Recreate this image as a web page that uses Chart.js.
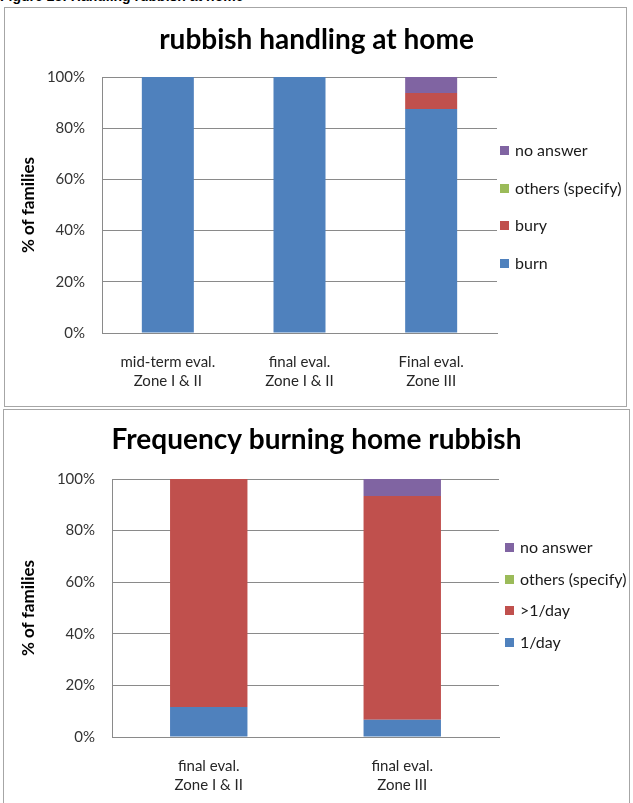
<!DOCTYPE html>
<html>
<head>
<meta charset="utf-8">
<script src="https://cdn.jsdelivr.net/npm/chart.js@4"></script>
<style>
  body { margin: 0; width: 633px; height: 803px; overflow: hidden; background: #fff; position: relative; font-family: Lato, sans-serif; }
  .caption { position: absolute; left: 0; top: -12px; font: bold 14px "Liberation Sans", Arial, sans-serif; color: #000; white-space: nowrap; }
  .frame { position: absolute; border: 1px solid #a6a6a6; box-sizing: border-box; }
  .holder { position: absolute; left: 0; width: 633px; }
  .legend { position: absolute; font-size: 16px; color: #1a1a1a; }
  .legend .item { position: absolute; left: 0; height: 20px; line-height: 20px; white-space: nowrap; }
  .legend .box { position: absolute; left: 0; top: 6px; width: 9px; height: 9px; }
  .legend .txt { position: absolute; left: 15px; top: 0; }
</style>
</head>
<body>
<div class="caption">Figure 23: Handling rubbish at home</div>
<div class="frame" style="left:4px; top:7px; width:623px; height:400px;"></div>
<div class="frame" style="left:3px; top:409px; width:627px; height:420px;"></div>
<div class="holder" style="top:0; height:406px;"><canvas id="handling-chart"></canvas></div>
<div class="holder" style="top:409px; height:394px;"><canvas id="frequency-chart"></canvas></div>
<div class="legend" id="handling-legend" style="left:500px; top:0;"></div>
<div class="legend" id="frequency-legend" style="left:505px; top:0;"></div>

<script>
// --- Dados: destino do lixo ---
const handlingLabels = [['mid-term eval.', 'Zone I & II'], ['final eval.', 'Zone I & II'], ['Final eval.', 'Zone III']];
const burnValues = [100, 100, 87.5];
const buryValues = [0, 0, 6.25];
const othersHandling = [0, 0, 0];
const noAnswerHandling = [0, 0, 6.25];

// --- Dados: frequência de queima ---
const frequencyLabels = [['final eval.', 'Zone I & II'], ['final eval.', 'Zone III']];
const oncePerDay = [11.6, 6.7];
const morePerDay = [88.4, 86.7];
const othersFrequency = [0, 0];
const noAnswerFrequency = [0, 6.6];

const yTicks = [0, 20, 40, 60, 80, 100];

const FONT = 'Lato, "Open Sans", sans-serif';
const GRID = '#8a8a8a';
const BLUE = '#4f81bd', RED = '#c0504d', GREEN = '#9bbb59', PURPLE = '#8064a2';

function createChart(canvasId, title, labels, series, cfg) {
    const ctx = document.getElementById(canvasId).getContext('2d');
    return new Chart(ctx, {
        type: 'bar',
        data: {
            labels: labels,
            datasets: series.map(s => ({
                label: s.name,
                data: s.data,
                backgroundColor: s.color,
                borderWidth: 0,
                barPercentage: cfg.barPct,
                categoryPercentage: 1
            }))
        },
        options: {
            responsive: true, maintainAspectRatio: false,
            animation: false,
            layout: { padding: 0 },
            plugins: {
                legend: { display: false },
                tooltip: { enabled: false },
                title: {
                    display: true,
                    text: title,
                    color: '#000',
                    font: { family: FONT, size: 28, weight: 'bold' },
                    padding: { top: cfg.titleTop, bottom: cfg.titleBottom }
                }
            },
            scales: {
                x: {
                    stacked: true,
                    grid: { display: false, drawTicks: false },
                    border: { display: true, color: GRID },
                    ticks: {
                        color: '#262626',
                        font: { family: FONT, size: 15, lineHeight: 1.27 },
                        padding: 20, maxRotation: 0, autoSkip: false
                    },
                    afterFit: s => { s.height = cfg.xHeight; }
                },
                y: {
                    stacked: true,
                    min: 0, max: 100,
                    afterBuildTicks: s => { s.ticks = yTicks.map(v => ({ value: v })); },
                    grid: { color: GRID, drawTicks: false },
                    border: { display: true, color: GRID },
                    ticks: {
                        color: '#333333',
                        font: { family: FONT, size: 15 },
                        padding: 17,
                        callback: v => v + '%'
                    },
                    title: {
                        display: true,
                        text: '% of families',
                        color: '#000',
                        font: { family: FONT, size: 17, weight: 'bold' },
                        padding: { top: 18 }
                    },
                    afterFit: s => { s.width = cfg.yWidth; }
                },
                // eixo vazio só para reservar o espaço da legenda à direita
                room: {
                    type: 'linear',
                    position: 'right',
                    grid: { display: false, drawTicks: false },
                    border: { display: false },
                    ticks: { display: false },
                    afterFit: s => { s.width = cfg.padRight; }
                }
            }
        }
    });
}

function buildLegend(elId, series, firstY, step) {
    const el = document.getElementById(elId);
    series.slice().reverse().forEach((s, i) => {
        const item = document.createElement('div');
        item.className = 'item';
        item.style.top = (firstY + i * step - 10) + 'px';
        item.innerHTML = '<span class="box" style="background:' + s.color + '"></span><span class="txt"></span>';
        item.querySelector('.txt').textContent = s.name;
        el.appendChild(item);
    });
}

const handlingSeries = [
    { name: 'burn', data: burnValues, color: BLUE },
    { name: 'bury', data: buryValues, color: RED },
    { name: 'others (specify)', data: othersHandling, color: GREEN },
    { name: 'no answer', data: noAnswerHandling, color: PURPLE }
];

const frequencySeries = [
    { name: '1/day', data: oncePerDay, color: BLUE },
    { name: '>1/day', data: morePerDay, color: RED },
    { name: 'others (specify)', data: othersFrequency, color: GREEN },
    { name: 'no answer', data: noAnswerFrequency, color: PURPLE }
];

createChart('handling-chart', 'rubbish handling at home', handlingLabels, handlingSeries,
    { yWidth: 102, xHeight: 73, padRight: 136, titleTop: 23, titleBottom: 20.4, barPct: 0.395 });
createChart('frequency-chart', 'Frequency burning home rubbish', frequencyLabels, frequencySeries,
    { yWidth: 112, xHeight: 66, padRight: 134, titleTop: 14, titleBottom: 22.4, barPct: 0.4 });

buildLegend('handling-legend', handlingSeries, 150, 37.7);
buildLegend('frequency-legend', frequencySeries, 547, 31.7);
</script>
</body>
</html>
